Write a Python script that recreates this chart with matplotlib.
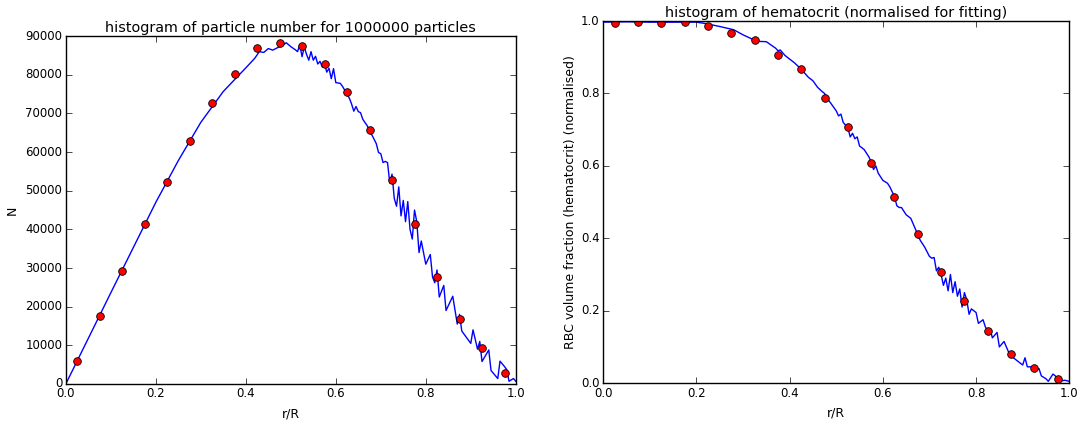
import numpy as np
import matplotlib
matplotlib.use('Agg')
import matplotlib.pyplot as plt

plt.style.use('classic')

# bin centres of the coarse histogram (red dots)
r_coarse = [0.025, 0.075, 0.125, 0.175, 0.225, 0.275, 0.325, 0.375, 0.425, 0.475,
            0.525, 0.575, 0.625, 0.675, 0.725, 0.775, 0.825, 0.875, 0.925, 0.975]
n_coarse = [5900, 17700, 29300, 41300, 52300, 62900, 72600, 80200, 87000, 88300,
            87500, 82700, 75500, 65800, 52700, 41400, 27800, 16700, 9400, 2800]
hct_coarse = [0.995, 0.998, 0.995, 0.998, 0.985, 0.968, 0.948, 0.905, 0.867, 0.788,
              0.707, 0.608, 0.513, 0.413, 0.308, 0.227, 0.143, 0.081, 0.043, 0.012]

# fine histogram (blue line), particle count
r_fine_n = [0.0, 0.05, 0.1, 0.15, 0.2, 0.25, 0.3, 0.35, 0.4, 0.42,
            0.43, 0.44, 0.45, 0.46, 0.47, 0.48, 0.49, 0.5, 0.51, 0.515,
            0.52, 0.525, 0.53, 0.535, 0.54, 0.545, 0.55, 0.555, 0.56, 0.565,
            0.57, 0.575, 0.58, 0.585, 0.59, 0.595, 0.6, 0.61, 0.615, 0.62,
            0.63, 0.635, 0.64, 0.645, 0.65, 0.655, 0.66, 0.67, 0.68, 0.69,
            0.695, 0.7, 0.705, 0.71, 0.715, 0.72, 0.725, 0.73, 0.735, 0.74,
            0.745, 0.75, 0.755, 0.76, 0.765, 0.77, 0.775, 0.78, 0.785, 0.79,
            0.8, 0.81, 0.815, 0.82, 0.825, 0.83, 0.84, 0.845, 0.86, 0.87,
            0.875, 0.88, 0.9, 0.905, 0.91, 0.915, 0.92, 0.925, 0.94, 0.945,
            0.96, 0.965, 0.975, 0.98, 0.985, 0.995, 1.0]
n_fine = [0, 11800, 23600, 35300, 47000, 57800, 67700, 75700, 81800, 84300,
          86000, 85800, 86800, 86400, 87000, 87500, 88300, 87300, 86500, 86000,
          87800, 84700, 87200, 85300, 83800, 86000, 83800, 84800, 82800, 83500,
          82000, 82800, 80700, 81700, 79000, 81600, 78000, 77800, 77000, 76000,
          74000, 72500, 70600, 71800, 70500, 70200, 68500, 66800, 64500, 62200,
          59900, 59600, 57300, 57600, 57300, 52000, 54300, 48000, 46000, 51000,
          43500, 47500, 42000, 47200, 40000, 37500, 45000, 42000, 34000, 37000,
          31000, 33500, 27700, 26200, 29500, 22500, 25500, 19000, 22700, 15500,
          18000, 13700, 10500, 14000, 11500, 9000, 11000, 5800, 8800, 3500,
          1400, 5900, 4500, 3700, 700, 1400, 700]

# fine histogram (blue line), normalised hematocrit
r_fine_h = [0.0, 0.05, 0.1, 0.2, 0.22, 0.25, 0.28, 0.3, 0.33, 0.35,
            0.37, 0.375, 0.38, 0.39, 0.4, 0.41, 0.425, 0.44, 0.45, 0.46,
            0.47, 0.475, 0.48, 0.49, 0.5, 0.505, 0.51, 0.515, 0.525, 0.53,
            0.535, 0.54, 0.545, 0.55, 0.56, 0.565, 0.57, 0.575, 0.58, 0.585,
            0.59, 0.595, 0.6, 0.61, 0.615, 0.625, 0.63, 0.635, 0.64, 0.65,
            0.66, 0.665, 0.675, 0.68, 0.69, 0.7, 0.705, 0.71, 0.715, 0.72,
            0.725, 0.73, 0.735, 0.74, 0.745, 0.75, 0.755, 0.76, 0.765, 0.77,
            0.775, 0.78, 0.785, 0.79, 0.8, 0.805, 0.815, 0.82, 0.825, 0.83,
            0.835, 0.845, 0.85, 0.86, 0.865, 0.87, 0.875, 0.88, 0.89, 0.9,
            0.905, 0.91, 0.92, 0.925, 0.935, 0.94, 0.95, 0.955, 0.965, 0.97,
            0.975, 0.98, 0.99, 1.0]
hct_fine = [0.997, 0.998, 0.997, 0.997, 0.993, 0.985, 0.976, 0.962, 0.944, 0.943,
            0.925, 0.918, 0.920, 0.905, 0.895, 0.885, 0.867, 0.845, 0.835, 0.817,
            0.805, 0.800, 0.788, 0.770, 0.752, 0.738, 0.743, 0.720, 0.705, 0.680,
            0.690, 0.675, 0.680, 0.655, 0.645, 0.635, 0.625, 0.610, 0.590, 0.600,
            0.580, 0.570, 0.560, 0.552, 0.542, 0.515, 0.490, 0.485, 0.485, 0.465,
            0.455, 0.440, 0.410, 0.395, 0.375, 0.350, 0.345, 0.347, 0.310, 0.320,
            0.300, 0.270, 0.290, 0.255, 0.300, 0.250, 0.280, 0.240, 0.260, 0.210,
            0.250, 0.230, 0.190, 0.205, 0.195, 0.165, 0.175, 0.155, 0.145, 0.150,
            0.125, 0.140, 0.100, 0.115, 0.100, 0.085, 0.080, 0.070, 0.060, 0.050,
            0.070, 0.045, 0.045, 0.035, 0.040, 0.020, 0.012, 0.005, 0.025, 0.020,
            0.012, 0.005, 0.008, 0.005]

n_particles = 1000000

fig = plt.figure(figsize=(10.79, 4.21), dpi=100, facecolor='white')

ax1 = fig.add_axes([0.061, 0.088, 0.417, 0.826])
ax1.plot(r_fine_n, n_fine, 'b-', lw=1)
ax1.plot(r_coarse, n_coarse, 'ro', ms=5.5, mec='k', mew=0.6)
ax1.set_xlim(0, 1)
ax1.set_ylim(0, 90000)
ax1.set_xlabel('r/R', fontsize=9)
ax1.set_ylabel('N', fontsize=9)
ax1.set_title('histogram of particle number for %d particles' % n_particles,
              fontsize=10.4, pad=3)
ax1.tick_params(labelsize=8.5, pad=2.5)

ax2 = fig.add_axes([0.559, 0.090, 0.432, 0.860])
ax2.plot(r_fine_h, hct_fine, 'b-', lw=1)
ax2.plot(r_coarse, hct_coarse, 'ro', ms=5.5, mec='k', mew=0.6)
ax2.set_xlim(0, 1)
ax2.set_ylim(0, 1)
ax2.set_xlabel('r/R', fontsize=9)
ax2.set_ylabel('RBC volume fraction (hematocrit) (normalised)', fontsize=9, labelpad=3)
ax2.set_title('histogram of hematocrit (normalised for fitting)', fontsize=10.4, pad=3)
ax2.tick_params(labelsize=8.5, pad=2.5)

fig.savefig('out.png', dpi=100, facecolor='white')
